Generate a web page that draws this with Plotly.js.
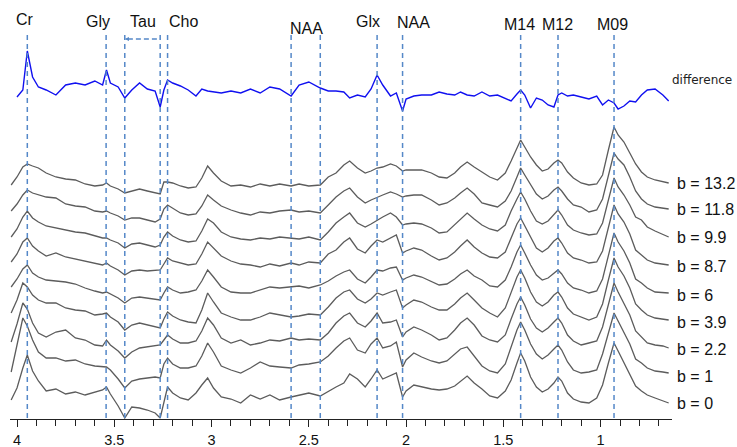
<!DOCTYPE html>
<html><head><meta charset="utf-8">
<script src="https://cdn.plot.ly/plotly-3.0.1.min.js"></script>
<style>html,body{margin:0;padding:0;background:#fff}#chart{width:737px;height:447px}</style>
</head><body><div id="chart"></div>
<script>
// chemical shift grid (ppm)
const ppm = [4.03,4.00,3.97,3.947,3.92,3.89,3.85,3.80,3.75,3.70,
 3.65,3.60,3.56,3.54,3.52,3.48,3.446,3.41,3.37,3.33,
 3.29,3.264,3.245,3.226,3.20,3.16,3.12,3.08,3.05,3.02,
 2.99,2.95,2.90,2.85,2.80,2.75,2.70,2.65,2.591,2.55,
 2.50,2.441,2.40,2.36,2.32,2.29,2.25,2.21,2.18,2.149,
 2.12,2.08,2.05,2.018,2.00,1.96,1.92,1.87,1.83,1.79,
 1.75,1.72,1.686,1.65,1.61,1.57,1.53,1.49,1.46,1.43,
 1.411,1.39,1.36,1.33,1.30,1.27,1.24,1.219,1.20,1.17,
 1.14,1.10,1.06,1.02,0.99,0.96,0.931,0.91,0.88,0.85,
 0.82,0.79,0.76,0.72,0.68,0.65];

const bValues = ['13.2','11.8','9.9','8.7','6','3.9','2.2','1','0'];

const spec_b13_2 = [-2,6,16,19,17,15,10,6,4,3, -1,-3,-2,0,-3,-6,-10,-8,-6,-8, -10,-11,1,1,0,-3,-5,-4,5,17,
 10,2,-3,-2,-4,-1,-3,-1,-3,-1, -3,-2,6,10,18,22,15,10,12,15, 16,19,17,12,13,13,13,10,6,5,
 10,16,21,16,11,6,3,10,22,36, 43,36,26,18,12,14,20,23,20,11, 5,0,-2,-1,8,33,56,48,41,30, 19,11,6,3,1,0];
const spec_b11_8 = [-2,5,14,19,16,14,12,11,5,3, 2,-2,-3,-2,-4,-7,-11,-9,-9,-11, -13,-10,0,4,1,-4,-6,-5,3,14,
 9,3,-1,-4,-6,-3,-4,-2,-1,-3, -2,-4,4,12,18,21,12,6,9,12, 14,17,15,12,13,14,14,9,4,6,
 11,16,21,15,6,4,2,8,18,32, 41,34,24,15,10,13,19,22,18,10, 4,2,-3,-1,10,33,56,50,44,32, 18,10,5,2,1,0];
const spec_b9_9 = [0,8,20,26,19,15,11,9,7,5, 4,1,-1,-1,-3,-6,-11,-7,-6,-8, -10,-8,0,5,1,-3,-5,-4,6,18,
 14,5,0,-2,-3,-1,-2,0,-1,-2, 0,-3,5,14,20,24,14,10,13,17, 20,24,20,12,13,14,13,9,4,5,
 12,18,24,18,12,8,6,12,26,38, 45,38,26,16,13,16,23,27,22,12, 7,4,2,3,14,36,59,50,42,32, 20,17,10,6,3,0];
const spec_b8_7 = [4,12,24,28,20,15,10,13,9,7, 5,3,1,3,0,-4,-9,-5,-4,-5, -4,-4,2,8,5,3,1,2,12,24,
 18,10,5,2,1,-1,2,0,3,1, 4,3,12,16,24,28,17,13,20,26, 24,28,31,13,15,18,16,10,6,8,
 14,20,26,19,13,9,8,14,28,42, 48,40,28,18,14,18,25,28,23,13, 8,6,3,4,15,38,61,52,44,32, 16,11,6,3,2,1];
const spec_b6 = [8,16,26,30,22,18,15,14,13,11, 7,4,2,3,1,-3,-8,-3,-2,-3, -4,-5,2,8,5,2,3,5,14,25,
 18,8,3,2,2,5,8,7,8,9, 7,10,14,19,23,25,16,12,18,25, 24,27,28,15,17,20,18,14,10,11,
 16,21,25,19,15,9,8,15,28,43, 50,42,30,20,15,17,22,25,21,12, 7,5,2,4,16,40,62,53,44,32, 16,12,7,3,2,2];
const spec_b3_9 = [9,22,39,35,27,22,19,19,14,12, 11,7,8,9,5,0,-8,-3,-1,-3, -5,-6,3,10,6,2,0,-1,12,29,
 20,9,5,2,2,5,9,7,5,6, 8,7,15,24,30,32,23,19,23,29, 27,30,32,14,17,22,20,15,12,12,
 18,24,29,22,14,9,5,14,30,45, 52,44,30,20,16,20,27,30,25,14, 8,5,2,5,18,42,64,55,46,34, 18,12,7,4,3,2];
const spec_b2_2 = [7,25,46,40,26,16,12,17,19,11, 9,4,3,9,4,-2,-9,-3,1,2, 3,4,9,14,10,6,6,8,18,31,
 24,11,6,9,4,6,9,8,11,9, 10,9,16,26,33,36,26,22,28,36, 26,27,29,12,17,22,19,14,9,11,
 19,26,31,24,13,9,7,14,30,45, 52,44,30,21,17,21,27,31,26,14, 8,4,6,8,22,45,66,57,46,34, 18,12,6,4,3,1];
const spec_b1 = [4,30,58,50,36,24,18,18,15,16, 12,10,9,9,6,-3,-12,-5,-3,-2, -1,-2,12,18,12,8,8,10,20,33,
 24,10,6,3,8,14,10,9,8,11, 12,14,20,28,35,38,26,23,32,38, 28,30,34,9,16,23,19,15,13,15,
 22,27,29,20,10,5,3,12,30,46, 54,46,32,22,17,21,27,31,26,14, 6,3,4,6,22,44,63,55,44,32, 17,13,8,5,4,3];
const spec_b0 = [3,15,35,48,32,22,12,14,9,11, 8,11,13,16,9,-3,-15,-4,-5,-7, -10,-15,2,16,10,5,3,10,18,25,
 15,6,4,0,8,4,8,3,6,8, 10,7,12,16,20,29,24,16,24,33, 24,27,30,6,12,18,16,14,13,14,
 17,22,27,20,14,7,5,12,23,40, 50,42,26,16,11,14,20,26,22,10, 4,1,0,5,18,40,60,52,40,28, 17,12,8,5,2,0];

const difference = [null,-4,3,42,16,6,3,-2,8,10, 8,12,8,23,10,6,-5,3,10,4, 2,-14,3,13,10,7,3,-3,4,2,
 1,0,2,0,4,0,6,4,-3,8, 11,5,2,2,1,-5,-2,-4,4,18, 8,-3,0,-18,-6,-3,-2,-2,1,-1,
 -2,1,-2,-3,1,-3,-2,-5,-8,-1, 3,-2,-15,-5,-7,-12,-14,-2,0,-3, -2,-4,-6,-3,-12,-7,-10,-16,-13,-8, -9,-2,3,4,-2,-8];

const spectra = [spec_b13_2, spec_b11_8, spec_b9_9, spec_b8_7, spec_b6, spec_b3_9, spec_b2_2, spec_b1, spec_b0];

// assigned resonances (dashed markers)
const peakPpm = [3.947, 3.542, 3.446, 3.264, 3.226, 2.591, 2.441, 2.149, 2.018, 1.411, 1.219, 0.931];
const peakNames = ['Cr','Gly','Tau','Cho','NAA','Glx','NAA','M14','M12','M09'];

// ---- layout helpers (stacking offsets in plot units) ----
const stackOffset = [236, 210, 182, 153, 124, 97, 70, 43, 16];
const diffOffset = 326;
const labelPos = [[3.959,400],[3.583,398],[3.352,398],[3.146,398],[2.513,391],[2.194,398],[1.962,397],[1.416,395],[1.220,395],[0.937,395]];

const font = 'Liberation Sans, Arial, sans-serif';
const traces = [];
spectra.forEach((s, i) => {
  traces.push({x: ppm, y: s.map(v => v + stackOffset[i]), type: 'scatter', mode: 'lines',
    line: {color: '#5c5c5c', width: 1.3}, hoverinfo: 'skip', showlegend: false});
});
traces.push({x: ppm, y: difference.map(v => v === null ? null : v + diffOffset), type: 'scatter', mode: 'lines',
  line: {color: '#1010f0', width: 1.4}, hoverinfo: 'skip', showlegend: false});

const dashColor = '#5588c8';
const shapes = peakPpm.map(p => ({type: 'line', xref: 'x', yref: 'y', x0: p, x1: p, y0: 1, y1: 384,
  line: {color: dashColor, width: 1.5, dash: '5px,4px'}}));
shapes.push({type: 'line', xref: 'x', yref: 'y', x0: 3.43, x1: 3.264, y0: 380, y1: 380,
  line: {color: dashColor, width: 1.3, dash: '5px,3px'}});

const annotations = [];
peakNames.forEach((n, i) => annotations.push({x: labelPos[i][0], y: labelPos[i][1], xref: 'x', yref: 'y',
  text: n, showarrow: false, font: {family: font, size: 16, color: '#111'}}));
annotations.push({x: 3.446, y: 380, ax: 3.425, ay: 380, axref: 'x', ayref: 'y', xref: 'x', yref: 'y',
  text: '', showarrow: true, arrowhead: 2, arrowsize: 0.7, arrowwidth: 1.2, arrowcolor: dashColor, standoff: 0});
bValues.forEach((b, i) => annotations.push({x: 0.65, y: stackOffset[i], xref: 'x', yref: 'y', xanchor: 'left',
  xshift: 6, text: 'b = ' + b, showarrow: false, font: {family: font, size: 16, color: '#111'}}));
annotations.push({x: 0.65, y: 339, xref: 'x', yref: 'y', xanchor: 'left', xshift: 1, text: 'difference',
  showarrow: false, font: {family: 'DejaVu Sans, sans-serif', size: 12, color: '#222'}});
annotations.push({x: 0.686, y: -18, xref: 'x', yref: 'y', text: 'ppm', showarrow: false,
  font: {family: font, size: 15, color: '#111'}});

const layout = {
  width: 737, height: 447,
  margin: {l: 10, r: 65, t: 0, b: 28, pad: 0},
  paper_bgcolor: '#fff', plot_bgcolor: '#fff',
  showlegend: false,
  xaxis: {range: [4.036, 0.633], showgrid: false, zeroline: false, showline: true, linecolor: '#222', linewidth: 1.2,
    ticks: 'outside', ticklen: 7, tickwidth: 1, tickcolor: '#222', tickmode: 'linear', tick0: 1, dtick: 0.5,
    tickfont: {family: font, size: 14.5, color: '#111'}, automargin: false, fixedrange: true,
    minor: {ticks: 'outside', ticklen: 6, tickwidth: 1, tickcolor: '#222', dtick: 0.1, tick0: 1, showgrid: false}},
  yaxis: {range: [0, 419], visible: false, fixedrange: true, automargin: false},
  shapes: shapes, annotations: annotations
};
Plotly.newPlot('chart', traces, layout, {displayModeBar: false, staticPlot: true});
</script></body></html>
